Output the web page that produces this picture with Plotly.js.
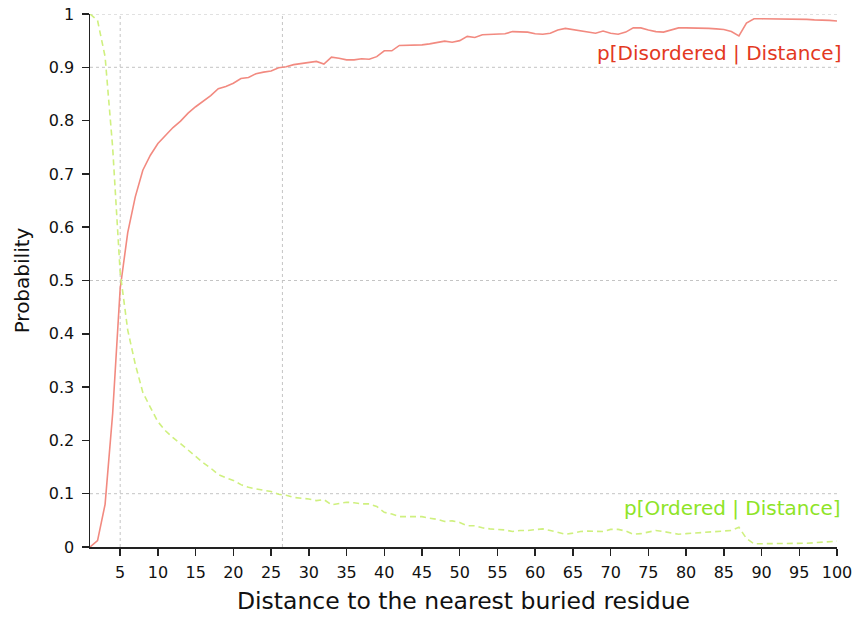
<!DOCTYPE html>
<html>
<head>
<meta charset="utf-8">
<script src="https://cdn.plot.ly/plotly-3.0.1.min.js"></script>
<style>html,body{margin:0;padding:0;background:#fff;}#chart{width:852px;height:617px;}</style>
</head>
<body>
<div id="chart"></div>
<script>
// Distance to the nearest buried residue (1..100)
var distance = [];
for (var i = 1; i <= 100; i++) distance.push(i);

// p[Disordered | Distance]
var pDisordered = [
  0.000, 0.012, 0.080, 0.250, 0.485, 0.590, 0.657, 0.707, 0.735, 0.757,
  0.772, 0.787, 0.799, 0.814, 0.826, 0.836, 0.847, 0.860, 0.864, 0.870,
  0.879, 0.881, 0.888, 0.891, 0.893, 0.899, 0.901, 0.905, 0.907, 0.910,
  0.911, 0.906, 0.919, 0.917, 0.914, 0.914, 0.916, 0.915, 0.920, 0.931,
  0.931, 0.941, 0.941, 0.941, 0.942, 0.944, 0.947, 0.949, 0.947, 0.950,
  0.958, 0.956, 0.961, 0.962, 0.963, 0.963, 0.967, 0.966, 0.966, 0.963,
  0.962, 0.964, 0.970, 0.973, 0.971, 0.968, 0.966, 0.964, 0.968, 0.964,
  0.962, 0.966, 0.974, 0.974, 0.970, 0.967, 0.966, 0.970, 0.974, 0.974,
  0.974, 0.973, 0.973, 0.972, 0.971, 0.967, 0.959, 0.983, 0.991, 0.991,
  0.991, 0.991, 0.990, 0.990, 0.990, 0.990, 0.989, 0.989, 0.988, 0.987
];

// p[Ordered | Distance]
var pOrdered = [
  1.000, 0.988, 0.920, 0.750, 0.515, 0.407, 0.343, 0.290, 0.262, 0.235,
  0.218, 0.205, 0.194, 0.182, 0.170, 0.158, 0.148, 0.136, 0.130, 0.125,
  0.117, 0.112, 0.109, 0.107, 0.104, 0.099, 0.097, 0.093, 0.092, 0.090,
  0.087, 0.089, 0.079, 0.081, 0.084, 0.083, 0.081, 0.081, 0.076, 0.065,
  0.062, 0.057, 0.057, 0.057, 0.057, 0.054, 0.052, 0.048, 0.049, 0.046,
  0.040, 0.040, 0.036, 0.034, 0.033, 0.032, 0.029, 0.031, 0.031, 0.032,
  0.034, 0.031, 0.027, 0.024, 0.026, 0.029, 0.030, 0.030, 0.029, 0.033,
  0.033, 0.030, 0.024, 0.025, 0.028, 0.031, 0.029, 0.026, 0.024, 0.025,
  0.026, 0.027, 0.027, 0.028, 0.029, 0.031, 0.037, 0.016, 0.006, 0.006,
  0.006, 0.006, 0.007, 0.007, 0.007, 0.007, 0.008, 0.009, 0.010, 0.011
];

var seriesLabels = ['p[Disordered | Distance]', 'p[Ordered | Distance]'];
var xTicks = [5, 10, 15, 20, 25, 30, 35, 40, 45, 50, 55, 60, 65, 70, 75, 80, 85, 90, 95, 100];
var yTicks = [0, 0.1, 0.2, 0.3, 0.4, 0.5, 0.6, 0.7, 0.8, 0.9, 1];
var yTickText = ['0', '0.1', '0.2', '0.3', '0.4', '0.5', '0.6', '0.7', '0.8', '0.9', '1'];
var gridX = [5, 26.5];
var gridY = [0.1, 0.5, 0.9, 1.0];

var shapes = [];
gridX.forEach(function (gx) {
  shapes.push({type: 'line', xref: 'x', yref: 'y', x0: gx, x1: gx, y0: 0, y1: 1,
    line: {color: '#c4c4c4', width: 1, dash: 'dot'}, layer: 'below'});
});
gridY.forEach(function (gy) {
  shapes.push({type: 'line', xref: 'x', yref: 'y', x0: 1, x1: 100, y0: gy, y1: gy,
    line: {color: '#c4c4c4', width: 1, dash: 'dot'}, layer: 'below'});
});

var traces = [
  {x: distance, y: pDisordered, type: 'scatter', mode: 'lines', name: seriesLabels[0],
   line: {color: '#f28a80', width: 1.6}, cliponaxis: false},
  {x: distance, y: pOrdered, type: 'scatter', mode: 'lines', name: seriesLabels[1],
   line: {color: '#cff07f', width: 1.6, dash: '6px,4px'}, cliponaxis: false}
];

var layout = {
  width: 852, height: 617,
  margin: {l: 90, r: 15, t: 14, b: 70},
  paper_bgcolor: '#ffffff', plot_bgcolor: '#ffffff',
  showlegend: false,
  font: {family: 'DejaVu Sans, Verdana, sans-serif', color: '#111', size: 16},
  xaxis: {
    range: [1, 100], tickmode: 'array', tickvals: xTicks, ticktext: xTicks.map(String),
    showgrid: false, zeroline: false,
    showline: true, linecolor: '#222', linewidth: 1.5,
    ticks: 'outside', ticklen: 7, tickwidth: 1.5, tickcolor: '#222',
    ticklabelstandoff: 3, ticklabeloverflow: 'allow',
    tickfont: {size: 16, color: '#111'},
    title: {text: 'Distance to the nearest buried residue', font: {size: 23.5, color: '#111'}, standoff: 12}
  },
  yaxis: {
    range: [0, 1], tickmode: 'array', tickvals: yTicks, ticktext: yTickText,
    showgrid: false, zeroline: false,
    showline: true, linecolor: '#222', linewidth: 1.5,
    ticks: 'outside', ticklen: 7, tickwidth: 1.5, tickcolor: '#222',
    ticklabelstandoff: 4,
    tickfont: {size: 16, color: '#111'},
    title: {text: 'Probability', font: {size: 20, color: '#111'}, standoff: 14}
  },
  shapes: shapes,
  annotations: [
    {xref: 'paper', yref: 'y', x: 1, y: 0.927, xanchor: 'right', yanchor: 'middle', xshift: 6,
     text: seriesLabels[0], showarrow: false, font: {size: 20, color: '#e3391f'}},
    {xref: 'paper', yref: 'y', x: 1, y: 0.073, xanchor: 'right', yanchor: 'middle', xshift: 6,
     text: seriesLabels[1], showarrow: false, font: {size: 20, color: '#8ee427'}}
  ]
};

Plotly.newPlot('chart', traces, layout, {displayModeBar: false, staticPlot: true});
</script>
</body>
</html>
